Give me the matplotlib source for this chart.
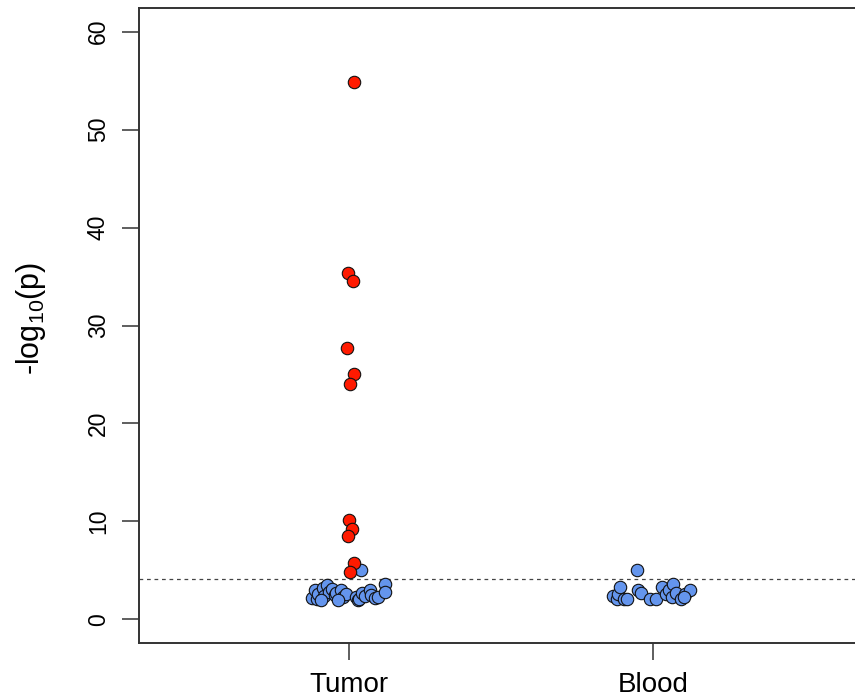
import matplotlib
matplotlib.use("Agg")
import matplotlib.pyplot as plt

plt.rcParams['font.family'] = ['Liberation Sans', 'DejaVu Sans']
plt.rcParams['mathtext.fontset'] = 'custom'
plt.rcParams['mathtext.rm'] = 'Liberation Sans'
plt.rcParams['mathtext.it'] = 'Liberation Sans'

# categories (x positions 1, 2)
groups = ['Tumor', 'Blood']
threshold = 4.1

# significant hits in tumor (red): jittered x, -log10(p)
tumor_sig_x = [1.016, 0.997, 1.013, 0.993, 1.016, 1.006, 1.000, 1.012, 0.998, 1.018, 1.005]
tumor_sig_y = [54.8, 35.4, 34.5, 27.7, 25.0, 24.0, 10.2, 9.2, 8.5, 5.8, 4.8]

# non-significant tumor points (blue)
tumor_ns_x = [0.880, 0.895, 0.890, 0.900, 0.915, 0.920, 0.930, 0.935, 0.945, 0.955,
              0.960, 0.975, 0.980, 0.990, 1.025, 1.030, 1.035, 1.045, 1.055, 1.070,
              1.075, 1.085, 1.095, 1.120, 1.120, 1.040, 0.965, 0.910]
tumor_ns_y = [2.2, 2.1, 3.0, 2.6, 3.2, 2.4, 3.5, 2.8, 3.1, 2.5,
              2.7, 3.0, 2.3, 2.6, 2.3, 1.95, 2.1, 2.7, 2.4, 3.0,
              2.5, 2.2, 2.3, 3.6, 2.8, 5.1, 2.0, 2.0]

# blood points (blue)
blood_x = [1.866, 1.880, 1.885, 1.890, 1.905, 1.915, 1.947, 1.950, 1.960, 1.990,
           2.010, 2.030, 2.040, 2.050, 2.060, 2.065, 2.075, 2.090, 2.105, 2.120, 2.100]
blood_y = [2.4, 2.1, 2.6, 3.3, 2.1, 2.1, 5.1, 3.0, 2.7, 2.1,
           2.1, 3.3, 2.6, 3.0, 2.3, 3.6, 2.7, 2.1, 2.6, 3.0, 2.3]

fig = plt.figure(figsize=(8.55, 7), dpi=100)
ax = fig.add_axes([139 / 855, 57 / 700, (863 - 139) / 855, 635 / 700])

pt = dict(s=80, edgecolors='#111111', linewidths=0.8, zorder=3)
ax.scatter(tumor_ns_x, tumor_ns_y, color='cornflowerblue', **pt)
ax.scatter(blood_x, blood_y, color='cornflowerblue', **pt)
ax.scatter(tumor_sig_x, tumor_sig_y, color='#ff1a00', **pt)

ax.axhline(threshold, color='#444444', lw=0.9, ls=(0, (3, 3)), zorder=1)

ax.set_xlim(0.312, 2.688)
ax.set_ylim(-2.4, 62.4)
ax.set_xticks([1, 2])
ax.set_xticklabels(groups, fontsize=20)
ax.set_yticks(range(0, 61, 10))
ax.set_yticklabels([str(v) for v in range(0, 61, 10)], fontsize=16.5,
                   rotation=90, va='center')
ax.tick_params(axis='x', length=12, width=1.1, pad=9, color='#333333')
ax.tick_params(axis='y', length=12, width=1.1, pad=9, color='#333333')
for sp in ax.spines.values():
    sp.set_linewidth(1.4)
    sp.set_color('#333333')

fig.text(31 / 855, 1 - 318 / 700, r'-log$_{10}$(p)', fontsize=22,
         rotation=90, ha='center', va='center')

fig.savefig('out.png', dpi=100)
